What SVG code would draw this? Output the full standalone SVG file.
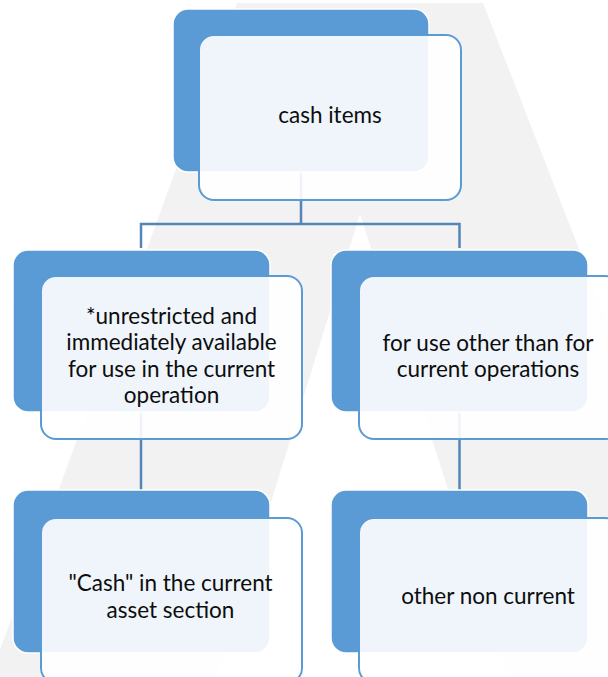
<svg xmlns="http://www.w3.org/2000/svg" width="608" height="677" viewBox="0 0 608 677">
  <defs>
    <style>
      .back { fill: #5b9bd5; stroke: #ffffff; stroke-width: 1.5; }
      .front { fill: #ffffff; fill-opacity: 0.9; stroke: #5b9bd5; stroke-width: 2; }
      .conn { fill: none; stroke: #5485b9; stroke-width: 2.5; }
      .label { font-family: Lato, "Liberation Sans", sans-serif; font-size: 22.5px; fill: #0d0d0d; text-anchor: middle; }
    </style>
  </defs>
  <rect x="0" y="0" width="608" height="677" fill="#ffffff"/>
  <path id="watermark" fill="#f2f2f2" fill-rule="evenodd" d="M237,3 L483,3 L746,677 L-10,677 Z M360,214 L217,677 L508,677 Z"/>
  <g id="connectors">
    <path class="conn" d="M301,172 V224 M141,248 V224 H459.5 V248"/>
    <path class="conn" d="M141,412 V490"/>
    <path class="conn" d="M459.5,412 V490"/>
  </g>
  <g id="node-cash-items">
    <rect class="back" x="173" y="9" width="256" height="163" rx="15"/>
    <rect class="front" x="199" y="35" width="262" height="165" rx="15"/>
    <text class="label" x="330" y="123">cash items</text>
  </g>
  <g id="node-unrestricted">
    <rect class="back" x="13" y="250" width="257" height="162" rx="15"/>
    <rect class="front" x="41" y="276" width="261" height="163" rx="15"/>
    <text class="label" x="171.5" y="324">*unrestricted and</text>
    <text class="label" x="171.5" y="350">immediately available</text>
    <text class="label" x="171.5" y="377">for use in the current</text>
    <text class="label" x="171.5" y="403">operation</text>
  </g>
  <g id="node-other-use">
    <rect class="back" x="331" y="250" width="257" height="162" rx="15"/>
    <rect class="front" x="359" y="276" width="261" height="163" rx="15"/>
    <text class="label" x="488" y="351">for use other than for</text>
    <text class="label" x="488" y="377">current operations</text>
  </g>
  <g id="node-cash-current">
    <rect class="back" x="13" y="490" width="257" height="163" rx="15"/>
    <rect class="front" x="41" y="518" width="261" height="165" rx="15"/>
    <text class="label" x="170.5" y="591">"Cash" in the current</text>
    <text class="label" x="170.5" y="618">asset section</text>
  </g>
  <g id="node-other-noncurrent">
    <rect class="back" x="331" y="490" width="257" height="163" rx="15"/>
    <rect class="front" x="359" y="518" width="261" height="165" rx="15"/>
    <text class="label" x="488" y="604">other non current</text>
  </g>
</svg>
